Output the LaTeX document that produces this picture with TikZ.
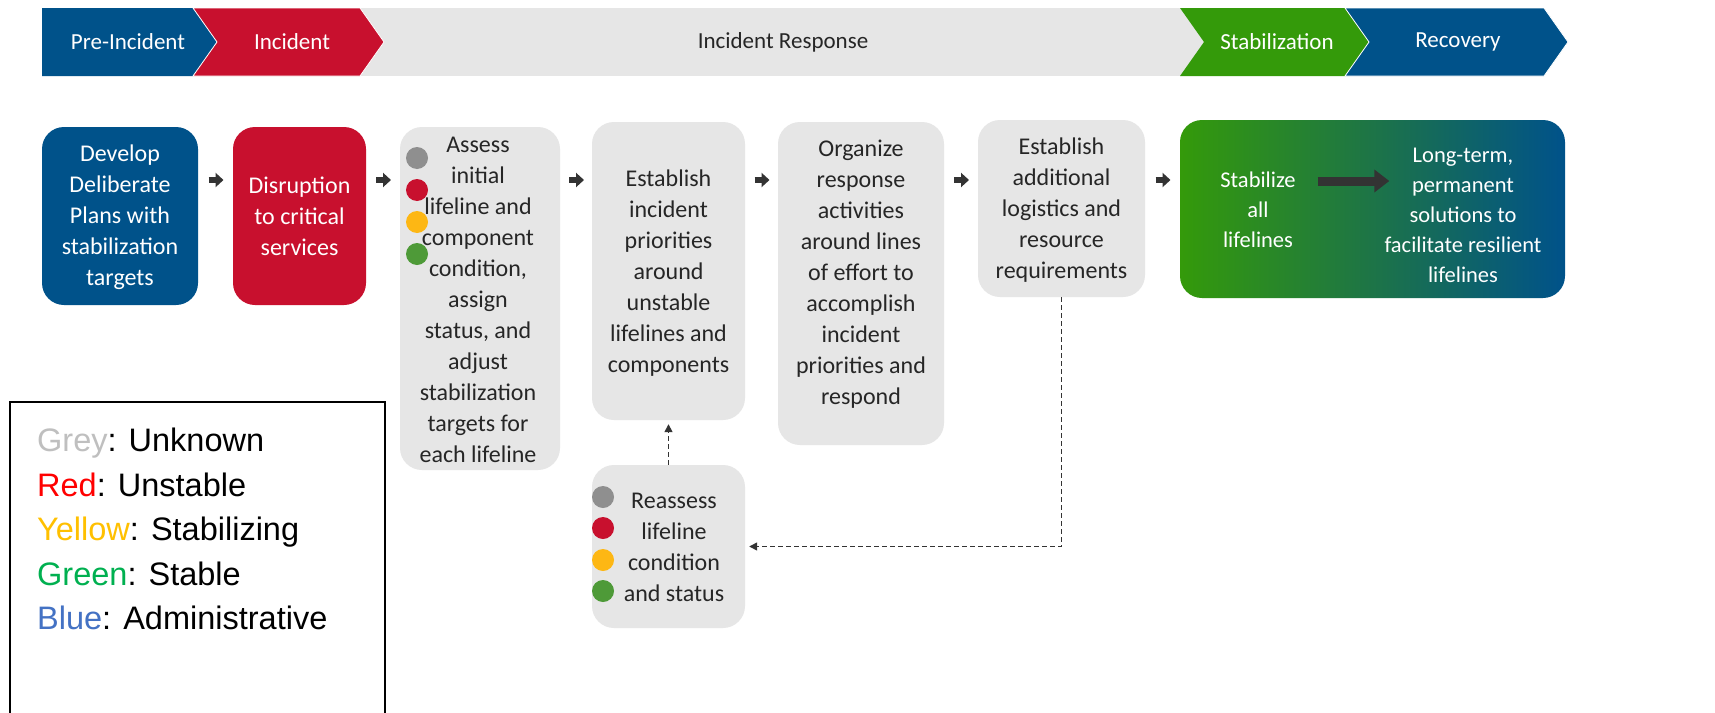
\documentclass[tikz,border=0pt]{standalone}
\usepackage{fontspec}
\setmainfont{Carlito}
\newfontfamily\legendfont{Liberation Sans}
\usetikzlibrary{arrows.meta,calc}
\definecolor{fblue}{HTML}{00528A}
\definecolor{fred}{HTML}{C8102E}
\definecolor{fgreen}{HTML}{349A0A}
\definecolor{fmid}{HTML}{1D7447}
\definecolor{bannergrey}{HTML}{E6E6E6}
\definecolor{boxgrey}{HTML}{E6E6E6}
\definecolor{dotgrey}{HTML}{8F8F8F}
\definecolor{dotred}{HTML}{C8102E}
\definecolor{dotyellow}{HTML}{FDB714}
\definecolor{dotgreen}{HTML}{4E9A38}
\definecolor{txtdark}{HTML}{262626}
\definecolor{arrdark}{HTML}{333333}
\definecolor{lgrey}{HTML}{BFBFBF}
\definecolor{lred}{HTML}{FF0000}
\definecolor{lyellow}{HTML}{FFC000}
\definecolor{lgreen}{HTML}{00B050}
\definecolor{lblue}{HTML}{4472C4}
\begin{document}
\begin{tikzpicture}[x=1pt,y=-1pt,
  gbox/.style={fill=boxgrey, rounded corners=22pt, inner sep=0pt},
  cbox/.style={rounded corners=22pt, inner sep=0pt},
  btext/.style={align=center, font=\fontsize{24}{31}\selectfont, text=txtdark, inner sep=0pt},
  wtext/.style={btext, text=white},
  bantext/.style={font=\fontsize{23}{26}\selectfont, text=white, inner sep=0pt},
  dot/.style={circle, minimum size=22pt, inner sep=0pt},
  smallarr/.style={arrdark, line width=6pt, -{Triangle[length=8pt,width=14pt]}},
  dashline/.style={arrdark, line width=1.5pt, dash pattern=on 5pt off 3pt, -{Triangle[length=8pt,width=8pt]}, shorten >=4pt},
  legtext/.style={anchor=base west, font=\legendfont\fontsize{32.5}{44}\selectfont, inner sep=0pt}
]
\useasboundingbox (0,0) rectangle (1715,712);
\fill[white] (0,0) rectangle (1715,712);

% ---------- banner ----------
\fill[bannergrey] (340,8) rectangle (1210,76);
\fill[fblue] (42,8) -- (193,8) -- (217,42) -- (193,76) -- (42,76) -- cycle;
\fill[fred, draw=white, line width=0.8pt] (193,8) -- (360,8) -- (384,42) -- (360,76) -- (193,76) -- (217,42) -- cycle;
\fill[fgreen] (1180,8) -- (1345,8) -- (1369,42) -- (1345,76) -- (1180,76) -- (1204,42) -- cycle;
\fill[fblue, draw=white, line width=0.8pt] (1345,8) -- (1544,8) -- (1568,42) -- (1544,76) -- (1345,76) -- (1369,42) -- cycle;
\node[bantext] (h1) at (128,42) {Pre-Incident};
\node[bantext] (h2) at (292,42) {Incident};
\node[bantext, text=txtdark] (h3) at (783,42) {Incident Response};
\node[bantext] (h4) at (1277,42) {Stabilization};
\node[bantext] (h5) at (1458,42) {Recovery};

% ---------- boxes ----------
\node[cbox, fill=fblue, minimum width=156pt, minimum height=178pt] (b1) at (120,216) {};
\node[wtext] (t1) at (120,217) {Develop\\Deliberate\\Plans with\\stabilization\\targets};

\node[cbox, fill=fred, minimum width=133pt, minimum height=178pt] (b2) at (299.5,216) {};
\node[wtext] (t2) at (299.5,216) {Disruption\\to critical\\services};

\node[gbox, minimum width=160pt, minimum height=343pt] (b3) at (480,298.5) {};
\node[btext] (t3) at (478,300) {Assess\\initial\\lifeline and\\component\\condition,\\assign\\status, and\\adjust\\stabilization\\targets for\\each lifeline};
\node[dot, fill=dotgrey] (c31) at (417,158) {};
\node[dot, fill=dotred] (c32) at (417,190) {};
\node[dot, fill=dotyellow] (c33) at (417,222) {};
\node[dot, fill=dotgreen] (c34) at (417,254) {};

\node[gbox, minimum width=153pt, minimum height=298pt] (b4) at (668.5,271) {};
\node[btext] (t4) at (668.5,273) {Establish\\incident\\priorities\\around\\unstable\\lifelines and\\components};

\node[gbox, minimum width=166pt, minimum height=323pt] (b5) at (861,283.5) {};
\node[btext] (t5) at (861,274) {Organize\\response\\activities\\around lines\\of effort to\\accomplish\\incident\\priorities and\\respond};

\node[gbox, minimum width=167pt, minimum height=177pt] (b6) at (1061.5,208.5) {};
\node[btext] (t6) at (1061.5,210) {Establish\\additional\\logistics and\\resource\\requirements};

\node[cbox, left color=fgreen, right color=fblue, middle color=fmid, minimum width=385pt, minimum height=178pt] (b7) at (1372.5,209) {};
\node[wtext, font=\fontsize{22.5}{30}\selectfont] (t7a) at (1258,210) {Stabilize\\all\\lifelines};
\node[wtext, font=\fontsize{22.5}{30}\selectfont] (t7b) at (1463,215) {Long-term,\\permanent\\solutions to\\facilitate resilient\\lifelines};
\draw[arrdark, line width=9pt, -{Triangle[length=15pt,width=22pt]}] ($(t7a.east)+(22,-29)$) -- ($(t7b.west)+(5,-34)$);

\node[gbox, minimum width=153pt, minimum height=163pt] (b8) at (668.5,546.5) {};
\node[btext] (t8) at (674,547) {Reassess\\lifeline\\condition\\and status};
\node[dot, fill=dotgrey] (c81) at (603,497) {};
\node[dot, fill=dotred] (c82) at (603,528) {};
\node[dot, fill=dotyellow] (c83) at (603,560) {};
\node[dot, fill=dotgreen] (c84) at (603,591) {};

% ---------- small arrows between boxes ----------
\coordinate (yref) at (0,180);
\foreach \a/\b in {b1/b2,b2/b3,b3/b4,b4/b5,b5/b6,b6/b7}{
  \coordinate (m) at ($(\a.east)!0.5!(\b.west)$);
  \draw[smallarr] ([xshift=-7pt]m |- yref) -- ([xshift=8pt]m |- yref);
}

% ---------- dashed feedback ----------
\draw[dashline] (b6.south) -- (b6.south |- b8.east) -- (b8.east);
\draw[dashline] (b8.north) -- (b4.south);

% ---------- legend ----------
\draw[black, line width=1.3pt] (10,714) -- (10,402) -- (385,402) -- (385,714);
\node[legtext] (l1) at (37,451) {\textcolor{lgrey}{Grey}: Unknown};
\node[legtext] (l2) at (37,496) {\textcolor{lred}{Red}: Unstable};
\node[legtext] (l3) at (37,540) {\textcolor{lyellow}{Yellow}: Stabilizing};
\node[legtext] (l4) at (37,585) {\textcolor{lgreen}{Green}: Stable};
\node[legtext] (l5) at (37,629) {\textcolor{lblue}{Blue}: Administrative};
\end{tikzpicture}
\end{document}
